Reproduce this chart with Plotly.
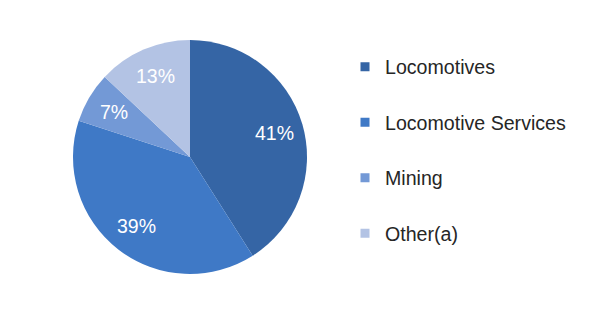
import math
import plotly.graph_objects as go

categories = ["Locomotives", "Locomotive Services", "Mining", "Other(a)"]
shares = [41, 39, 7, 13]
colors = ["#3565A5", "#3F79C6", "#7399D6", "#B3C3E4"]

W, H = 600, 321
cx, cy, R = 190, 157, 117

fig = go.Figure()
fig.add_trace(go.Pie(
    labels=categories, values=shares, sort=False, direction="clockwise",
    rotation=0, marker=dict(colors=colors, line=dict(width=0)),
    textinfo="none", showlegend=False, hoverinfo="none",
    domain=dict(x=[(cx - R) / W, (cx + R) / W],
                y=[1 - (cy + R) / H, 1 - (cy - R) / H]),
))

# percentage labels placed at ~0.75 radius along each slice's mid-angle
total = sum(shares)
cum = 0
for v in shares:
    mid = (cum + v / 2) / total * 2 * math.pi
    cum += v
    r = 0.75 * R
    px = cx + r * math.sin(mid)
    py = cy - r * math.cos(mid)
    fig.add_annotation(x=px / W, y=1 - py / H, xref="paper", yref="paper",
                       xanchor="center", yanchor="middle",
                       text=f"{v}%", showarrow=False,
                       font=dict(family="Liberation Sans, Arial, sans-serif",
                                 size=19.5, color="white"))

for name, c in zip(categories, colors):
    fig.add_trace(go.Scatter(
        x=[None], y=[None], mode="markers", name=name, legendgroup=name,
        marker=dict(symbol="square", size=9, color=c),
    ))

fig.update_layout(
    width=W, height=H, margin=dict(l=0, r=0, t=0, b=0),
    paper_bgcolor="white", plot_bgcolor="white",
    xaxis=dict(visible=False), yaxis=dict(visible=False),
    showlegend=True,
    legend=dict(x=345 / W, xanchor="left", y=1 - 150 / H, yanchor="middle",
                tracegroupgap=27, itemwidth=30,
                font=dict(family="Liberation Sans, Arial, sans-serif", size=19.6, color="#262626"),
                bgcolor="rgba(0,0,0,0)"),
)
fig.write_html("out.html")
